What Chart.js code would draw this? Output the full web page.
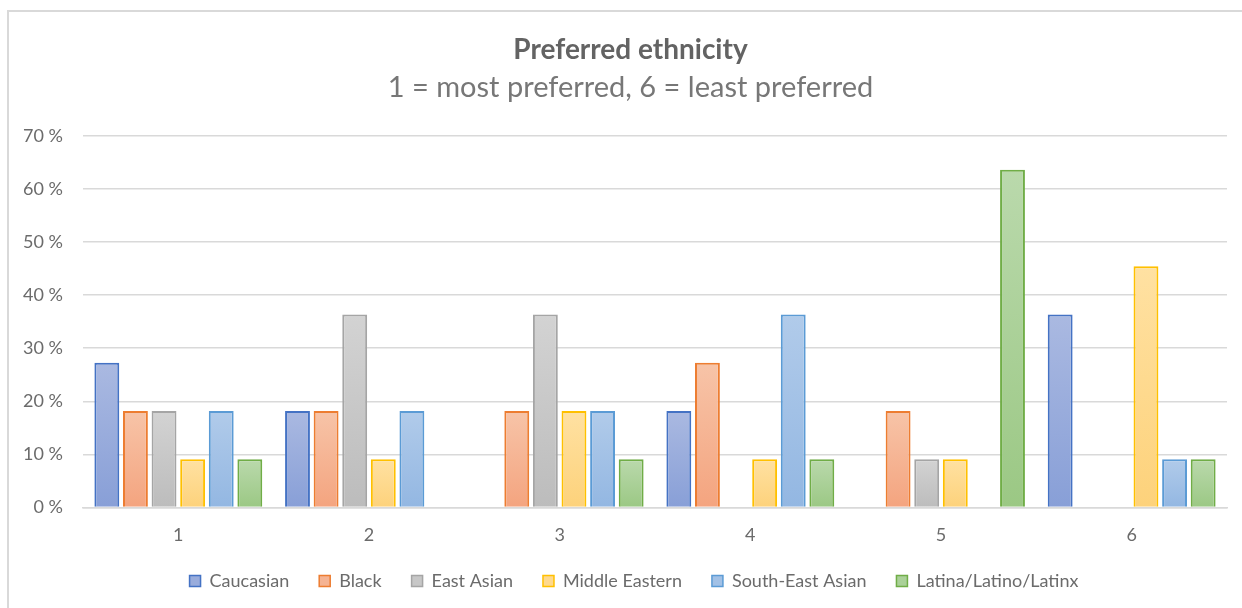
<!DOCTYPE html>
<html>
<head>
<meta charset="utf-8">
<script src="https://cdn.jsdelivr.net/npm/chart.js@4/dist/chart.umd.min.js"></script>
<style>
  html, body { margin: 0; padding: 0; background: #fff; }
  #wrap { position: relative; width: 1242px; height: 608px; overflow: hidden; }
  #frame { position: absolute; left: 7px; top: 10px; right: -4px; bottom: -4px;
           border-left: 2px solid #d9d9d9; border-top: 2px solid #d9d9d9; }
  canvas { position: absolute; left: 0; top: 0; }
</style>
</head>
<body>
<div id="wrap">
  <div id="frame"></div>
  <canvas id="chart" width="1242" height="608"></canvas>
</div>
<script>
// Rank positions (1 = most preferred, 6 = least preferred)
const ranks = ['1', '2', '3', '4', '5', '6'];

// Share of respondents (%) giving each ethnicity each rank
const caucasian     = [27.27, 18.18, 0,     18.18, 0,     36.36];
const black         = [18.18, 18.18, 18.18, 27.27, 18.18, 0];
const eastAsian     = [18.18, 36.36, 36.36, 0,     9.09,  0];
const middleEastern = [9.09,  9.09,  18.18, 9.09,  9.09,  45.45];
const southEastAsian= [18.18, 18.18, 18.18, 36.36, 0,     9.09];
const latinx        = [9.09,  0,     9.09,  9.09,  63.64, 9.09];

const seriesNames = ['Caucasian', 'Black', 'East Asian', 'Middle Eastern', 'South-East Asian', 'Latina/Latino/Latinx'];
const seriesValues = [caucasian, black, eastAsian, middleEastern, southEastAsian, latinx];

// Outline colour, gradient top, gradient bottom for each series
const palette = [
  { line: '#4472C4', top: '#aab9e1', bottom: '#889fd7', mid: '#99acdc' },
  { line: '#ED7D31', top: '#f7c4a8', bottom: '#f4a47f', mid: '#f5b393' },
  { line: '#A5A5A5', top: '#d3d3d3', bottom: '#bcbcbc', mid: '#c7c7c7' },
  { line: '#FFC000', top: '#ffe1a2', bottom: '#fdd27b', mid: '#fed98e' },
  { line: '#5B9BD5', top: '#b1cbea', bottom: '#93b7e2', mid: '#a2c1e6' },
  { line: '#70AD47', top: '#bad9ac', bottom: '#9bc884', mid: '#aad198' }
];

const tickLabels = ['0 %', '10 %', '20 %', '30 %', '40 %', '50 %', '60 %', '70 %'];

const FONT = 'Lato, "Open Sans", sans-serif';
const TEXT = '#6b6b6b';

// Vertical gradient running from each bar's top down to the baseline
function barFill(i) {
  return (ctx) => {
    const chart = ctx.chart;
    const area = chart.chartArea;
    if (!area || ctx.type !== 'data') return palette[i].mid;
    const y = chart.scales.y;
    const v = ctx.raw || 0;
    const yTop = y.getPixelForValue(v);
    const yBase = y.getPixelForValue(0);
    if (yBase - yTop < 1) return palette[i].bottom;
    const g = chart.ctx.createLinearGradient(0, yTop, 0, yBase);
    g.addColorStop(0, palette[i].top);
    g.addColorStop(1, palette[i].bottom);
    return g;
  };
}

// Centre the heading and legend on the whole frame rather than the canvas edge
const centreBlocks = {
  id: 'centreBlocks',
  afterLayout(chart) {
    chart.boxes.forEach((b) => {
      if (b.axis) return;
      b.left += b.legendItems ? 41 : 34;
    });
  }
};

const datasets = seriesNames.map((name, i) => ({
  label: name,
  data: seriesValues[i],
  backgroundColor: barFill(i),
  borderColor: palette[i].line,
  borderWidth: 2,
  borderSkipped: 'bottom',
  categoryPercentage: 0.9,
  barPercentage: 0.87
}));

new Chart(document.getElementById('chart'), {
  type: 'bar',
  data: { labels: ranks, datasets },
  plugins: [centreBlocks],
  options: {
    responsive: false,
    animation: false,
    devicePixelRatio: 1,
    layout: { padding: { left: 0, right: 15, top: 0, bottom: 8 } },
    plugins: {
      title: {
        display: true,
        text: 'Preferred ethnicity',
        color: '#636363',
        font: { family: FONT, size: 28, weight: 'bold' },
        padding: { top: 33.2, bottom: 0 }
      },
      subtitle: {
        display: true,
        text: '1 = most preferred, 6 = least preferred',
        color: '#777777',
        font: { family: FONT, size: 29, weight: 'normal' },
        padding: { top: 3.8, bottom: 30.6 }
      },
      legend: {
        position: 'bottom',
        labels: {
          color: TEXT,
          font: { family: FONT, size: 18 },
          boxWidth: 11,
          boxHeight: 11,
          padding: 30,
          generateLabels: (chart) => chart.data.datasets.map((ds, i) => ({
            text: ds.label,
            fillStyle: palette[i].mid,
            strokeStyle: palette[i].line,
            lineWidth: 1.5,
            fontColor: TEXT,
            hidden: false,
            datasetIndex: i
          }))
        }
      },
      tooltip: { enabled: false }
    },
    scales: {
      x: {
        afterFit: (scale) => { scale.height -= 21; },
        grid: { display: false, drawTicks: false },
        border: { display: true, color: '#d9d9d9', width: 1.5 },
        ticks: { color: TEXT, font: { family: FONT, size: 18 }, padding: 17 }
      },
      y: {
        min: 0,
        max: 70,
        afterFit: (scale) => { scale.width = 83; },
        grid: { color: '#d9d9d9', lineWidth: 1.5, drawTicks: false },
        border: { display: false },
        ticks: {
          stepSize: 10,
          color: TEXT,
          font: { family: FONT, size: 18 },
          padding: 20,
          callback: (v) => tickLabels[Math.round(v / 10)]
        }
      }
    }
  }
});
</script>
</body>
</html>
